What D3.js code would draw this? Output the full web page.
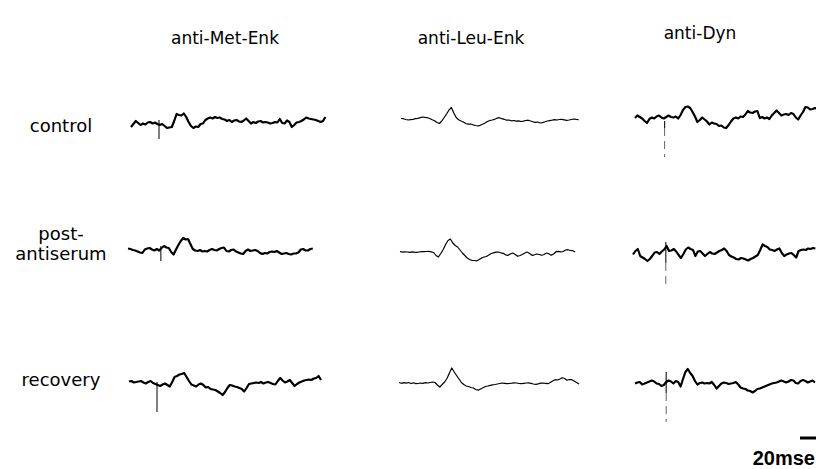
<!DOCTYPE html>
<html>
<head>
<meta charset="utf-8">
<script src="https://cdn.jsdelivr.net/npm/d3@7"></script>
<style>
  html, body { margin: 0; padding: 0; background: #fff; }
  svg { display: block; }
</style>
</head>
<body>
<svg id="chart" width="816" height="469"></svg>
<script>
// antisera (columns) and conditions (rows)
const antisera = ['anti-Met-Enk', 'anti-Leu-Enk', 'anti-Dyn'];
const conditions = [['control'], ['post-', 'antiserum'], ['recovery']];

// one sample every 3 ms, amplitude in arbitrary units (up = positive)
const sampleMs = 3;
const scaleBarMs = 20;
const scaleBarLabel = '20mse';

const metControl = [-2, 1, 4, 2, 0, 1.5, 0.5, 2.5, 3, 1.5, 2.5, 1, 0, 1, -1, -3, -2.5, -2, 4, 11, 10, 9.5, 11.5, 8, 3, -1, -3, -1.5, -2, 1, 1.5, 5, 6.5, 7.5, 6.5, 8, 7, 7.5, 6, 5.5, 4, 5, 3, 4.5, 5, 3.5, 3, 4.5, 6.5, 4, 1.5, 3, 2, 3.5, 4, 2.5, 3, 2.5, 1.5, 2, 3, 2.5, 6, 2, 1.5, 4.5, 3, -2, 0, 2.5, 3, 4, 5.5, 7.5, 6.5, 6, 5.5, 5, 4, 3, 4, 8];
const leuControl = [0.5, 0.3, -0.5, -1, -0.6, -0.4, 0.3, 0.7, 1.3, 2, 1.6, 1.3, 0.5, -0.8, -1.8, -3.5, -4.5, -2, 1.5, 5, 9, 11.5, 6, 1.5, -0.8, -2, -3, -4.5, -5.2, -5, -5.8, -6.5, -7, -6.3, -5.2, -4, -2.5, -1.5, -1, -0.3, 0.8, 1.3, 0.3, -0.3, -1.2, -1, -1.8, -1.5, -2.2, -1.8, -2.5, -2.2, -1.5, -1.2, -2, -2.8, -3.3, -3, -4, -3.6, -2.8, -2, -1.6, -1.2, -0.7, -1, -0.5, -0.3, -0.8, -1.3, -1, -0.5, 0, -0.4, -0.7];
const dynControl = [0, 2.5, 1, -0.5, -3, -5, -1, 0.5, -0.5, 1.5, 2.5, 0.5, -0.5, 1, 2.5, 1, 0.5, 1.5, -0.5, 3, 8, 11, 11.5, 10, 6, 1.5, -4, -2, 0.5, -1.5, -3.5, -6.5, -4.5, -5.5, -6, -8, -7.5, -9.5, -10, -7, -3.5, -0.5, 0.5, -0.5, 1.5, 1, 3.5, 7, 5.5, 5, 6.5, 7, 0, 1, -0.5, 0.5, -1, 2.5, 5, 7.5, 5, 2.5, 3.5, 4, 3, 5, 4, 0.5, -1.5, 2.5, 6, 11, 10.5, 8.5, 9, 10, 9];

const metPost = [1.5, 1, 0, -0.5, -1.5, -2.5, -3, 0.5, 1.5, 2, 0.5, -0.5, 1, -0.5, 2, 4, 2.5, 2, -2, -4.5, 0.5, 5, 9, 12, 10.5, 11, 6, 1, -0.5, -1, 0, -1.5, -1, -1.5, 0, 1, 0, -0.5, 1, 2, 2.5, -1, -1.5, 0, 0.5, -1.5, -2.5, -3.5, -4, -1, 0.5, -1, -0.5, 0, -1, -3, -4, -3, -3.5, -2, -1.5, -2, -1, -2.5, -4, -3.5, -3, -4, -4.5, -3.5, -3.5, -2.5, 0.5, 1, -0.5, -0.5, 1, 1.5];
const leuPost = [0.5, -0.2, 0.2, 0, -0.3, 0.1, -0.2, -0.3, 0, 0.3, 0.4, 0.5, 0.6, 0.2, -0.5, -3.5, -5, -1.5, 2.5, 7.5, 11.5, 13, 9, 6.5, 5, 2, -1, -3.5, -6, -7.5, -8.5, -8.5, -8.8, -7.5, -6, -5, -4.5, -3, -1.5, -0.8, -0.2, 0, -0.8, -1.3, -2.8, -3.3, -2, -1, -2.5, -4.3, -3.5, -2.5, -1, 0, -1.5, -3.3, -2.8, -2, -2.5, -3.3, -2.5, -1, -1.8, -3.3, -2, 0.3, 0.7, 0.2, 0.5, 2, 2.3, 1.5, 1.3, 0];
const dynPost = [-1.5, 2, 4, -3, -4.5, -6, -8, -6, -3, 0.5, 1, -1, 1.5, 3.5, 7, 2, 2.5, 4, 1.5, -2, -5, -1, 3.5, 5.5, 4, 3, -3, 1.5, 2, -0.5, -3, -1, 1, -0.5, -1, 0.5, 2, 3, 4.5, 2, -2, -3.5, -4.5, -6, -6.5, -5, -5.5, -6.5, -7.5, -6, -5, -3.5, -2, 3, 8.5, 7, 6, 3.5, 3, 2, 3.5, 4.5, 0, -3, -1.5, -0.5, 0, -2, -4.5, 2, 3, 3.5, 3, 4.5, 4, 5, 4.5];

const metRecovery = [1.5, 2, 0.5, 1, 1.5, 2, 0.5, -0.5, 1, 2, 0, -1, -2, -3, -1.5, -0.5, -2, -3.5, 1, 6, 7, 8.5, 9, 10, 6, 2, -1.5, -2.5, -3.5, -1.5, -0.5, -2, -4.5, -4, -6, -6.5, -7, -8.5, -10, -12, -9, -5, -2, -2.5, -3.5, -4, -5, -6, -8.5, -5, -1, -0.5, 0, 0.5, 0, 1, -0.5, 0.5, 1, 0, -1, -1.5, 2, 5, 2.5, 0.5, 1.5, 3, 0, -3, -1, 0.5, 1.5, 2.5, 3, 3.5, 3, 4.5, 5, 7, 3];
const leuRecovery = [0.5, -0.3, 0.4, -0.2, 0.5, -0.5, 0.2, -0.6, -0.5, 0, -0.3, 0.3, 0, 0.5, 1, 0.5, -2, -4, -1.5, 1, 4.5, 10, 15, 11, 7.5, 4, 0.5, -1.5, -3, -3.5, -4.5, -5, -6.5, -7.2, -6, -4.8, -3.5, -3, -2.3, -1.8, -1.5, -1, -0.5, 0, -0.3, -0.7, -0.5, -0.2, 0.2, 0, -0.5, -0.7, -0.3, 0, 0.2, -0.3, -1, -1.3, -0.8, -0.2, 0, -0.3, -0.7, 0.5, 2, 3.3, 3, 4, 5.3, 4.5, 2.7, 3.5, 3.3, 2, 0.5, -1];
const dynRecovery = [-0.5, 0.5, 1, -1.5, -0.5, 0.5, 1.5, 2.5, 1.5, -0.5, -1, -3, -2, 1, 2.5, 1.5, -0.5, 2, 1, -3.5, 4, 11, 14, 10, 7, 2, -1.5, 0, 0.5, -0.5, 0, -0.5, 1, -2, -5.5, -3, -0.5, 0.5, 0, -1, -0.5, 0, 1, -1.5, -4.5, -5.5, -6, -7.5, -8, -9.5, -8, -6, -5.5, -4.5, -3.5, -2.5, -1.5, -0.5, 0, 0.5, 1.5, 2.5, 1.5, 0.5, 1.5, 3, 2.5, 0, -0.5, 2, 3, 2, 0.5, 1.5, 2.5, 0.5];

// stimulus artifacts: time (ms) and extent, null where none is visible
const artifactMs = [[35, null, 37], [41, null, 41], [35, null, 39]];
const artifactHi = [[5, null, -3], [4, null, 11], [1, null, 11]];
const artifactLo = [[-14, null, -39], [-11, null, -34], [-29, null, -39]];

const traces = [
  [metControl, leuControl, dynControl],
  [metPost, leuPost, dynPost],
  [metRecovery, leuRecovery, dynRecovery]
];

// layout
const width = 816, height = 469;
const cellLeft = [[131, 401, 635], [128, 400, 633], [129, 399, 635]];
const cellBase = [[125, 119, 118], [250, 252, 253], [383, 383, 383]];
const headerX = [225, 471, 700];
const headerY = [44, 44, 39];
const labelX = 61;
const labelY = [[132], [240, 260], [386]];

const svg = d3.select('#chart');

// 20 ms = 16 px
const x = d3.scaleLinear().domain([0, 20]).range([0, 16]);
const y = d3.scaleLinear().domain([-10, 10]).range([10, -10]);

const line = d3.line()
  .x((d, i) => x(i * sampleMs))
  .y(d => y(d));

// Column titles
svg.selectAll('.header')
  .data(antisera)
  .enter().append('text')
  .attr('class', 'header')
  .attr('x', (d, i) => headerX[i])
  .attr('y', (d, i) => headerY[i])
  .attr('text-anchor', 'middle')
  .attr('font-family', 'DejaVu Sans, sans-serif')
  .attr('font-size', 17)
  .attr('fill', '#000')
  .text(d => d);

// Row labels
conditions.forEach((lines, r) => {
  lines.forEach((t, k) => {
    svg.append('text')
      .attr('x', labelX)
      .attr('y', labelY[r][k])
      .attr('text-anchor', 'middle')
      .attr('font-family', 'DejaVu Sans, sans-serif')
      .attr('font-size', 18)
      .attr('fill', '#000')
      .text(t);
  });
});

// Traces
traces.forEach((row, r) => {
  row.forEach((values, c) => {
    const g = svg.append('g')
      .attr('transform', `translate(${cellLeft[r][c]},${cellBase[r][c]})`);

    const t = artifactMs[r][c];
    if (t !== null) {
      const hi = artifactHi[r][c], lo = artifactLo[r][c];
      if (c === 2) {
        // faint, broken artifact in the anti-Dyn records
        g.append('line')
          .attr('x1', x(t)).attr('x2', x(t))
          .attr('y1', y(hi)).attr('y2', y(Math.max(lo, -10)))
          .attr('stroke', '#222').attr('stroke-width', 1.2);
        g.append('line')
          .attr('x1', x(t)).attr('x2', x(t))
          .attr('y1', y(-10)).attr('y2', y(lo))
          .attr('stroke', '#666').attr('stroke-width', 1)
          .attr('stroke-dasharray', '8,5');
      } else {
        g.append('line')
          .attr('x1', x(t)).attr('x2', x(t))
          .attr('y1', y(hi)).attr('y2', y(lo))
          .attr('stroke', '#555').attr('stroke-width', 1.5);
      }
    }

    g.append('path')
      .datum(values)
      .attr('fill', 'none')
      .attr('stroke', '#000')
      .attr('stroke-width', c === 1 ? 1.2 : 2.2)
      .attr('stroke-linejoin', 'round')
      .attr('d', line);
  });
});

// Scale bar
const barW = x(scaleBarMs);
svg.append('line')
  .attr('x1', width - barW).attr('x2', width)
  .attr('y1', 438).attr('y2', 438)
  .attr('stroke', '#000').attr('stroke-width', 3);

svg.append('text')
  .attr('x', 815)
  .attr('y', 465)
  .attr('text-anchor', 'end')
  .attr('font-family', 'Liberation Sans, Arial, sans-serif')
  .attr('font-weight', 'bold')
  .attr('font-size', 20)
  .attr('fill', '#000')
  .text(scaleBarLabel);
</script>
</body>
</html>
